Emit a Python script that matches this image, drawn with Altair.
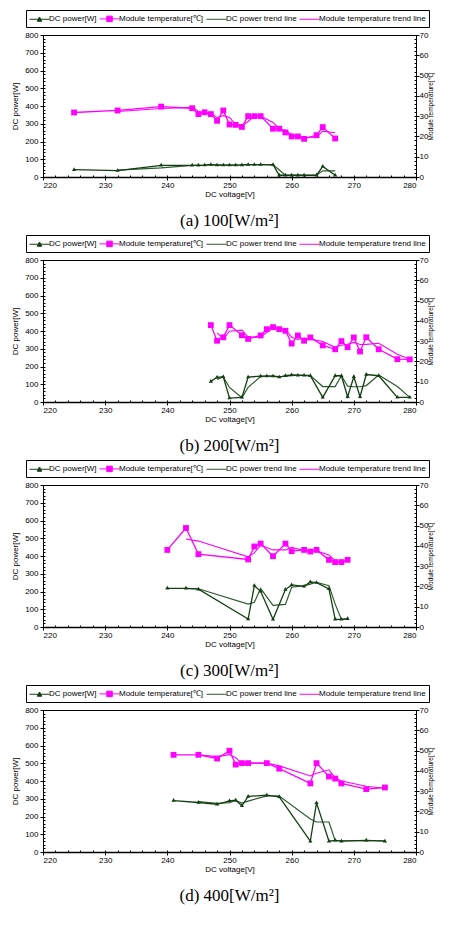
import altair as alt
import pandas as pd

SERIES = ["DC power[W]", "Module temperature[℃]", "DC power trend line", "Module temperature trend line"]
COLORS = ["#143f14", "#ff00ff", "#2c5a2c", "#ff00ff"]
CAPTIONS = ["(a)  100[W/m²]", "(b)  200[W/m²]", "(c)  300[W/m²]", "(d)  400[W/m²]"]

A_VOLT = [225, 232, 239, 244, 245, 246, 247, 248, 249, 250, 251, 252, 253, 254, 255, 257, 258, 259, 260, 261, 262, 264, 265, 267]
A_POWER = [41, 36, 66, 66, 66, 67, 70, 67, 67, 67, 67, 68, 70, 70, 70, 69, 10, 10, 10, 10, 10, 10, 60, 10]
A_TEMP = [31.8, 32.8, 34.7, 33.9, 31.0, 31.9, 31.0, 27.7, 32.8, 25.9, 25.7, 24.7, 30.0, 30.0, 30.0, 23.8, 23.8, 22.0, 20.0, 20.0, 18.8, 20.6, 24.6, 19.0]

B_VOLT = [247, 248, 249, 250, 252, 253, 255, 256, 257, 258, 259, 260, 261, 262, 263, 265, 267, 268, 269, 270, 271, 272, 274, 277, 279]
B_POWER = [116, 139, 142, 22, 26, 140, 146, 146, 146, 140, 148, 152, 150, 150, 148, 26, 148, 148, 30, 142, 30, 155, 148, 26, 26]
B_TEMP = [37.9, 30.2, 31.9, 37.9, 32.9, 31.1, 32.8, 35.9, 36.9, 35.9, 35.1, 28.8, 32.8, 30.2, 31.8, 27.9, 26.0, 30.0, 27.0, 31.8, 24.9, 31.9, 26.0, 21.1, 21.0]

C_VOLT = [240, 243, 245, 253, 254, 255, 257, 259, 260, 262, 263, 264, 266, 267, 268, 269]
C_POWER = [218, 218, 213, 45, 233, 201, 43, 211, 237, 229, 254, 250, 215, 43, 43, 47]
C_TEMP = [38.0, 48.8, 35.9, 33.3, 39.7, 41.1, 34.9, 41.1, 37.4, 38.0, 37.2, 38.0, 33.1, 32.0, 32.0, 33.1]

D_VOLT = [241, 245, 248, 250, 251, 252, 253, 256, 258, 263, 264, 266, 267, 268, 272, 275]
D_POWER = [290, 279, 269, 288, 292, 260, 313, 320, 311, 61, 277, 61, 66, 61, 66, 61]
D_TEMP = [47.9, 47.9, 46.1, 49.9, 43.1, 43.8, 43.8, 43.8, 41.1, 33.8, 43.8, 37.2, 36.2, 33.8, 31.0, 31.8]

X_TICKS = list(range(220, 281, 10))
X_MINOR = list(range(220, 281, 2))
P_TICKS = list(range(0, 801, 100))
P_MINOR = list(range(0, 801, 20))
T_TICKS = list(range(0, 71, 10))
T_MINOR = list(range(0, 71, 2))

W, H = 373, 142
FONT = "Liberation Sans"

SYMBOL_PATHS = [
    "M-1,0H3M1,-0.45L1.45,0.4H0.55Z",
    "M-1,0H3M0.45,-0.55H1.55V0.55H0.45Z",
    "M-1,0H3",
    "M-1,0H3",
]


def js_list(items):
    return "[" + ",".join("'" + s + "'" for s in items) + "]"


idx = "indexof(" + js_list(SERIES) + ", datum.value)"
col_sig = js_list(COLORS) + "[" + idx + "]"
shape_sig = js_list(SYMBOL_PATHS) + "[" + idx + "]"

LEGEND_ENCODE = {
    "symbols": {
        "update": {
            "shape": {"signal": shape_sig},
            "fill": {"signal": col_sig},
            "stroke": {"signal": col_sig},
            "strokeWidth": {"value": 1},
            "opacity": {"value": 1},
            "size": {"value": 100},
        }
    }
}

LEGEND = alt.Legend(
    title=None,
    orient="none",
    legendX=-17,
    legendY=-25,
    direction="horizontal",
    strokeColor="black",
    fillColor="white",
    padding=3,
    columnPadding=0,
    labelFont=FONT,
    labelFontSize=8,
    labelColor="black",
    symbolSize=100,
    labelOffset=9,
)

XS = alt.Scale(domain=[220, 280], nice=False, zero=False)
PS = alt.Scale(domain=[0, 800], nice=False)
TS = alt.Scale(domain=[0, 70], nice=False)

color = alt.Color("series:N", scale=alt.Scale(domain=SERIES, range=COLORS), legend=LEGEND)


def panel(volt, power, temp, caption):
    df = pd.DataFrame({"voltage": volt, "power": power, "temp": temp})
    base = alt.Chart(df)

    x_major = alt.X("voltage:Q", scale=XS, axis=alt.Axis(
        orient="bottom", values=X_TICKS, title="DC voltage[V]", tickSize=3,
        labelPadding=1, titlePadding=1, domainWidth=1.5))
    x_minor = alt.X("voltage:Q", scale=XS, axis=alt.Axis(
        orient="top", offset=-H, values=X_MINOR, labels=False, domain=False,
        tickSize=2, title=None))
    x_none = alt.X("voltage:Q", scale=XS, axis=None)

    # power group
    pw = base.transform_calculate(series="'" + SERIES[0] + "'")
    p_line = pw.mark_line(strokeWidth=1.3).encode(
        x=x_major,
        y=alt.Y("power:Q", scale=PS, axis=alt.Axis(
            orient="left", values=P_TICKS, title="DC power[W]", tickSize=3,
            labelPadding=2, titlePadding=5)),
        color=color)
    p_pts = pw.mark_point(shape="triangle", filled=True, size=18, opacity=1).encode(
        x=x_none, y=alt.Y("power:Q", scale=PS, axis=None), color=color)
    p_trend = base.transform_window(
        ma="mean(power)", cnt="count()", frame=[-1, 0], sort=[{"field": "voltage"}]
    ).transform_filter("datum.cnt > 1").transform_calculate(
        series="'" + SERIES[2] + "'"
    ).mark_line(strokeWidth=1.2).encode(
        x=x_minor,
        y=alt.Y("ma:Q", scale=PS, axis=alt.Axis(
            orient="right", offset=-W, values=P_MINOR, labels=False, domain=False,
            tickSize=2, title=None)),
        color=color)
    power_group = alt.layer(p_trend, p_line, p_pts)

    # temperature group
    tw = base.transform_calculate(series="'" + SERIES[1] + "'")
    t_line = tw.mark_line(strokeWidth=1.3).encode(
        x=x_none,
        y=alt.Y("temp:Q", scale=TS, axis=alt.Axis(
            orient="right", values=T_TICKS, title="Module temperature[℃]", tickSize=3,
            labelPadding=0, titlePadding=0, titleAngle=-90, titleBaseline="top",
            titleFontSize=6.5)),
        color=color)
    t_pts = tw.mark_point(shape="square", filled=True, size=34, opacity=1).encode(
        x=x_none, y=alt.Y("temp:Q", scale=TS, axis=None), color=color)
    t_trend = base.transform_window(
        ma="mean(temp)", cnt="count()", frame=[-1, 0], sort=[{"field": "voltage"}]
    ).transform_filter("datum.cnt > 1").transform_calculate(
        series="'" + SERIES[3] + "'"
    ).mark_line(strokeWidth=1.1).encode(
        x=x_none,
        y=alt.Y("ma:Q", scale=TS, axis=alt.Axis(
            orient="left", offset=-W, values=T_MINOR, labels=False, domain=False,
            tickSize=2, title=None)),
        color=color)
    temp_group = alt.layer(t_trend, t_line, t_pts)

    return alt.layer(power_group, temp_group).resolve_scale(y="independent").properties(
        width=W, height=H,
        title=alt.TitleParams(caption, orient="bottom", anchor="middle", font="Liberation Serif",
                              fontSize=17, fontWeight="normal", color="black", offset=15),
    )


panels = [
    panel(A_VOLT, A_POWER, A_TEMP, CAPTIONS[0]),
    panel(B_VOLT, B_POWER, B_TEMP, CAPTIONS[1]),
    panel(C_VOLT, C_POWER, C_TEMP, CAPTIONS[2]),
    panel(D_VOLT, D_POWER, D_TEMP, CAPTIONS[3]),
]

chart = alt.vconcat(*panels, spacing=4).resolve_scale(color="independent").resolve_legend(
    color="independent"
).configure(
    padding={"left": 3, "top": 1, "right": 0, "bottom": 0},
    font=FONT,
).configure_view(
    stroke="black", strokeWidth=1
).configure_axis(
    labelFont=FONT, labelFontSize=8, labelColor="black",
    titleFont=FONT, titleFontSize=8, titleFontWeight="normal", titleColor="black",
    domainColor="black", tickColor="black", grid=False,
)


# Vega-Lite accepts custom legend encodings ("encode"), which Altair's schema does not list;
# add them to the finished spec.
def _inject(obj):
    if isinstance(obj, dict):
        for k, v in obj.items():
            if k == "legend" and isinstance(v, dict) and v.get("orient") == "none":
                v["encode"] = LEGEND_ENCODE
            else:
                _inject(v)
    elif isinstance(obj, list):
        for v in obj:
            _inject(v)


_orig_to_dict = chart.to_dict


def _to_dict(*args, **kwargs):
    d = _orig_to_dict(*args, **kwargs)
    _inject(d)
    return d


object.__setattr__(chart, "to_dict", _to_dict)

chart.save("out.html", embed_options={"renderer": "svg", "actions": False})
